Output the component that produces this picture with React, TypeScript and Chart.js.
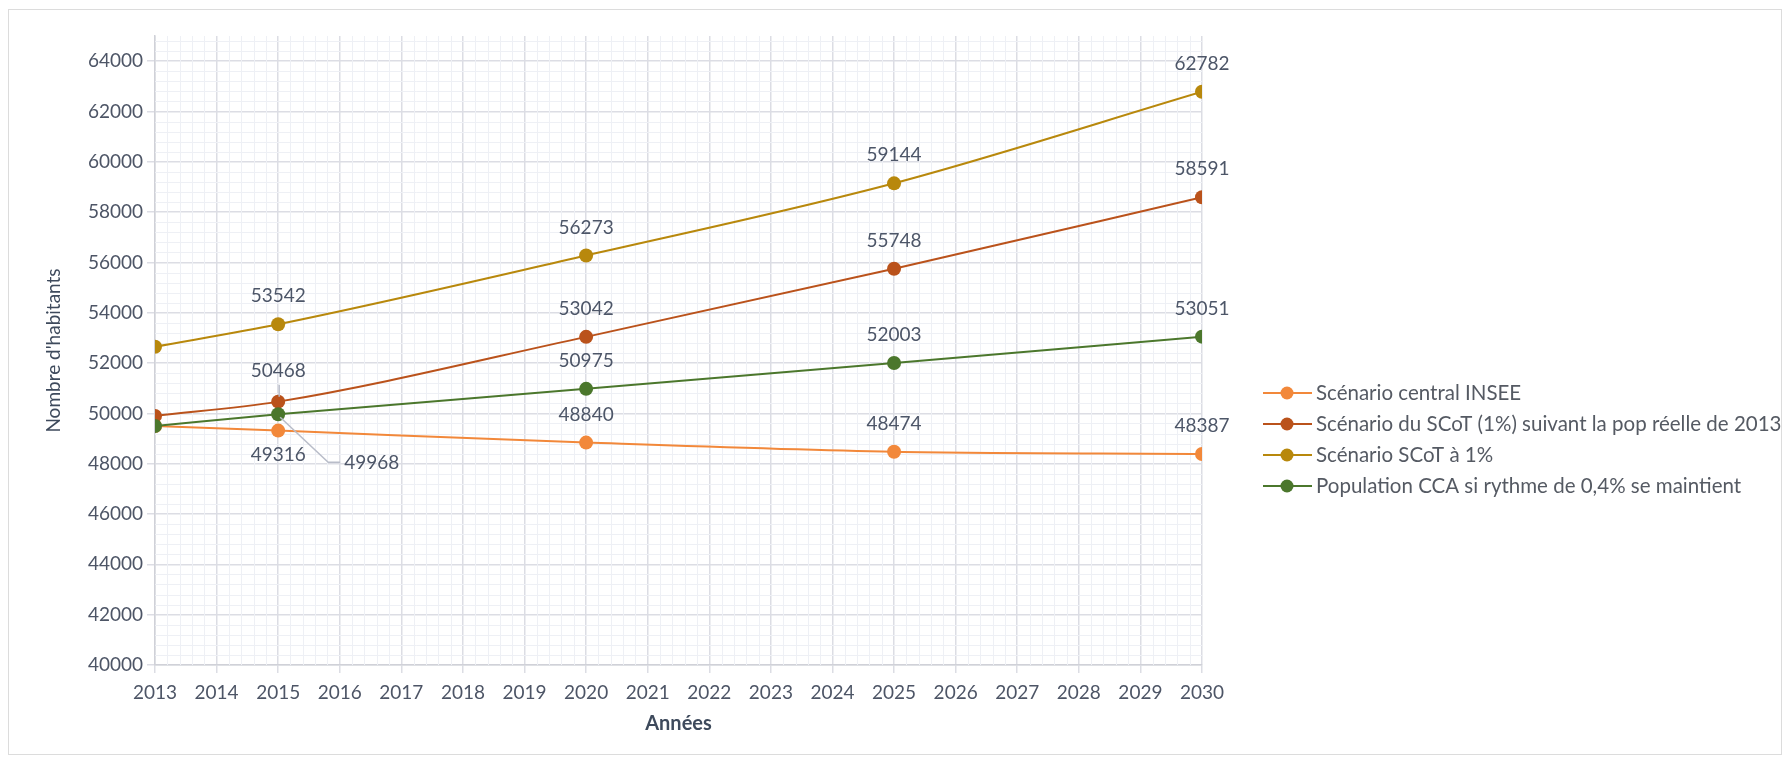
import React, { useEffect, useRef } from "react";
import { Chart, registerables } from "chart.js";

Chart.register(...registerables);

const pointYears = [2013, 2015, 2020, 2025, 2030];
const seriesNames = [
  "Scénario central INSEE",
  "Scénario du SCoT (1%) suivant la pop réelle de 2013",
  "Scénario SCoT à 1%",
  "Population CCA si rythme de 0,4% se maintient",
];
const inseeValues = [49500, 49316, 48840, 48474, 48387];
const scotRealValues = [49900, 50468, 53042, 55748, 58591];
const scotValues = [52650, 53542, 56273, 59144, 62782];
const ccaValues = [49500, 49968, 50975, 52003, 53051];
const yTickValues = [40000, 42000, 44000, 46000, 48000, 50000, 52000, 54000, 56000, 58000, 60000, 62000, 64000];
const xAxisTitle = "Années";
const yAxisTitle = "Nombre d'habitants";

const COLORS = ["#F2883A", "#BA521B", "#B8880C", "#4B772C"];
const FONT = "Lato, 'Open Sans', sans-serif";
const LABEL_COLOR = "#4d5668";

const W = 1775;
const H = 748;
const AREA = { left: 147, right: 1194, top: 28, bottom: 657 };

const labelsPlugin = {
  id: "valueLabels",
  afterDatasetsDraw(chart: any) {
    const ctx = chart.ctx;
    ctx.save();
    ctx.font = `19px ${FONT}`;
    ctx.fillStyle = LABEL_COLOR;
    ctx.textAlign = "center";
    ctx.textBaseline = "middle";
    chart.data.datasets.forEach((ds: any, di: number) => {
      const meta = chart.getDatasetMeta(di);
      meta.data.forEach((pt: any, i: number) => {
        if (i === 0) return;
        const text = String(ds.data[i].y);
        let x = pt.x;
        let y = pt.y - 28;
        if (di === 0 && i === 1) {
          y = pt.y + 24;
        } else if (di === 1 && i === 1) {
          y = pt.y - 31;
          ctx.strokeStyle = "#b9bdc9";
          ctx.lineWidth = 1.5;
          ctx.beginPath();
          ctx.moveTo(x + 1, y + 14);
          ctx.lineTo(x + 1, pt.y - 5);
          ctx.stroke();
        } else if (di === 3 && i === 1) {
          ctx.strokeStyle = "#b9bdc9";
          ctx.lineWidth = 1.5;
          ctx.beginPath();
          ctx.moveTo(x + 2, pt.y + 3);
          ctx.lineTo(x + 50, pt.y + 48);
          ctx.lineTo(x + 62, pt.y + 48);
          ctx.stroke();
          ctx.textAlign = "left";
          ctx.fillText(text, x + 66, pt.y + 49);
          ctx.textAlign = "center";
          return;
        }
        ctx.fillText(text, x, y);
      });
    });
    ctx.restore();
  },
};

const minorGridPlugin = {
  id: "minorGrid",
  beforeDatasetsDraw(chart: any) {
    const { ctx, chartArea, scales } = chart;
    ctx.save();
    ctx.strokeStyle = "#eef0f5";
    ctx.lineWidth = 1;
    const xs = scales.x;
    const ys = scales.y;
    for (let yr = 2013; yr < 2030; yr++) {
      for (let k = 1; k < 5; k++) {
        const px = Math.round(xs.getPixelForValue(yr + k / 5)) + 0.5;
        ctx.beginPath();
        ctx.moveTo(px, chartArea.top);
        ctx.lineTo(px, chartArea.bottom);
        ctx.stroke();
      }
    }
    for (let v = 40000; v < 65000; v += 400) {
      if (v % 2000 === 0) continue;
      const py = Math.round(ys.getPixelForValue(v)) + 0.5;
      ctx.beginPath();
      ctx.moveTo(chartArea.left, py);
      ctx.lineTo(chartArea.right, py);
      ctx.stroke();
    }
    ctx.restore();
  },
  beforeDraw(chart: any) {
    const ctx = chart.ctx;
    ctx.save();
    ctx.fillStyle = "#ffffff";
    ctx.fillRect(0, 0, chart.width, chart.height);
    ctx.strokeStyle = "#dcdcdc";
    ctx.lineWidth = 1;
    ctx.strokeRect(0.5, 1.5, chart.width - 2, chart.height - 3);
    ctx.restore();
  },
};

const legendPlugin = {
  id: "customLegend",
  afterDraw(chart: any) {
    const ctx = chart.ctx;
    ctx.save();
    const rowYs = [385, 416, 447, 478];
    seriesNames.forEach((name, i) => {
      const y = rowYs[i];
      ctx.strokeStyle = COLORS[i];
      ctx.lineWidth = 2;
      ctx.beginPath();
      ctx.moveTo(1255, y);
      ctx.lineTo(1304, y);
      ctx.stroke();
      ctx.fillStyle = COLORS[i];
      ctx.beginPath();
      ctx.arc(1279, y, 6.5, 0, Math.PI * 2);
      ctx.fill();
      ctx.fillStyle = "#555a63";
      ctx.font = `20.5px ${FONT}`;
      ctx.textAlign = "left";
      ctx.textBaseline = "middle";
      ctx.fillText(name, 1308, y);
    });
    ctx.restore();
  },
};

export default function App() {
  const ref = useRef<HTMLCanvasElement | null>(null);
  useEffect(() => {
    if (!ref.current) return;
    const series = [inseeValues, scotRealValues, scotValues, ccaValues];
    const drawOrder = [3, 2, 1, 0];
    const chart = new Chart(ref.current, {
      type: "line",
      data: {
        datasets: series.map((vals, i) => ({
          label: seriesNames[i],
          data: pointYears.map((yr, j) => ({ x: yr, y: vals[j] })),
          borderColor: COLORS[i],
          backgroundColor: COLORS[i],
          borderWidth: 2,
          pointRadius: 7,
          pointHoverRadius: 7,
          pointBorderWidth: 0,
          cubicInterpolationMode: "monotone" as const,
          order: drawOrder[i],
          fill: false,
        })),
      },
      options: {
        animation: false,
        responsive: false,
        maintainAspectRatio: false,
        layout: {
          padding: {
            left: 25,
            top: AREA.top,
            right: W - AREA.right,
            bottom: 17,
          },
        },
        plugins: {
          legend: { display: false },
          tooltip: { enabled: false },
        },
        scales: {
          x: {
            type: "linear",
            min: 2013,
            max: 2030,
            afterFit: (s: any) => {
              s.height = 74;
            },
            ticks: {
              stepSize: 1,
              padding: 8,
              color: "#4d5566",
              font: { family: FONT, size: 19 },
              callback: (v: any) => String(v),
            },
            grid: {
              color: "#dcdde4",
              lineWidth: 1.5,
              tickLength: 8,
              drawTicks: true,
            },
            border: { color: "#d0d1d8", width: 1.5 },
            title: {
              display: true,
              text: xAxisTitle,
              color: "#3e4a5c",
              font: { family: FONT, size: 20, weight: "bold" },
              padding: { top: 0, bottom: 3 },
            },
          },
          y: {
            type: "linear",
            min: 40000,
            max: 65000,
            afterFit: (s: any) => {
              s.width = AREA.left - 25;
            },
            afterBuildTicks: (axis: any) => {
              axis.ticks = yTickValues.map((v) => ({ value: v }));
            },
            ticks: {
              padding: 4,
              color: "#4d5566",
              font: { family: FONT, size: 19 },
              callback: (v: any) => String(v),
            },
            grid: {
              color: "#dcdde4",
              lineWidth: 1.5,
              tickLength: 8,
            },
            border: { color: "#d0d1d8", width: 1.5 },
            title: {
              display: true,
              text: yAxisTitle,
              color: "#3e4a5c",
              font: { family: FONT, size: 19 },
              padding: { top: 9, bottom: 0 },
            },
          },
        },
      },
      plugins: [minorGridPlugin, labelsPlugin, legendPlugin],
    });
    return () => chart.destroy();
  }, []);
  return (
    <div style={{ width: W, height: H }}>
      <canvas ref={ref} width={W} height={H} style={{ display: "block", width: W, height: H }} />
    </div>
  );
}
